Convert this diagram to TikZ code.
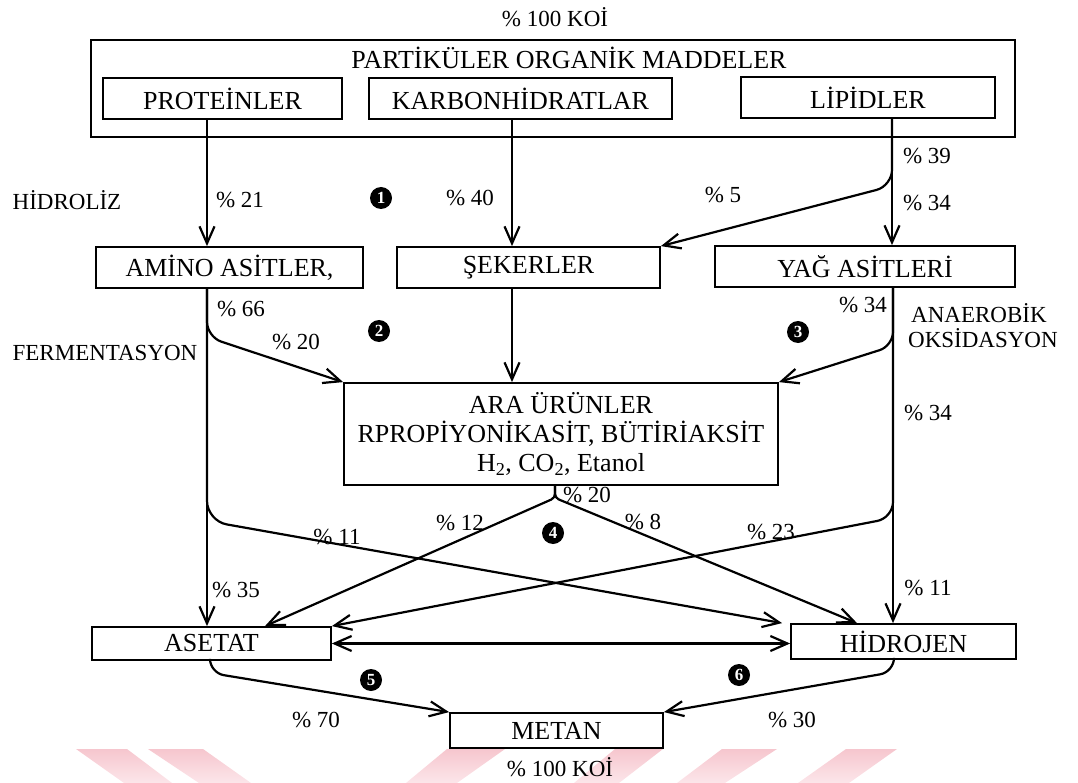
\documentclass[tikz,border=0pt]{standalone}
\usepackage{fontspec}
\setmainfont{Liberation Serif}
\usetikzlibrary{arrows.meta}
\definecolor{wmtop}{RGB}{246,198,206}
\definecolor{wmbot}{RGB}{252,230,234}
\newcommand{\bxfont}{\fontsize{26}{29}\selectfont}
\newcommand{\lbfont}{\fontsize{23}{26}\selectfont}
\newcommand{\nmfont}{\fontsize{17}{17}\selectfont\bfseries}
\begin{document}
\begin{tikzpicture}[x=1pt,y=-1pt,
  box/.style={draw, line width=1.8pt, inner sep=0pt, font=\bxfont, align=center},
  lbl/.style={inner sep=0pt, font=\lbfont},
  num/.style={circle, fill=black, text=white, inner sep=0pt, minimum size=22pt, font=\nmfont},
  barb/.tip={Straight Barb[length=17pt,width=15pt]},
  arr/.style={line width=2.2pt, -barb},
  darr/.style={line width=2.2pt, barb-barb},
  wm/.style={top color=wmtop, bottom color=wmbot, draw=none}]
\useasboundingbox (0,0) rectangle (1078,783);
% watermark stripes
\shade[wm] (76,749) -- (127,749) -- (172,783) -- (124,783) -- cycle;
\shade[wm] (148,749) -- (203,749) -- (251,783) -- (199,783) -- cycle;
\shade[wm] (447,749) -- (505,749) -- (457,783) -- (406,783) -- cycle;
\shade[wm] (615,749) -- (663,749) -- (619,783) -- (574,783) -- cycle;
\shade[wm] (722,749) -- (777,749) -- (725,783) -- (677,783) -- cycle;
\shade[wm] (846,749) -- (897,749) -- (849,783) -- (798,783) -- cycle;

% top
\node[lbl] (koitop) at (555,17) {\% 100 KOİ};
\node[box, minimum width=924pt, minimum height=97pt] (outer) at (553,88.5) {};
\node[lbl, font=\bxfont] (partik) at (569,58) {PARTİKÜLER ORGANİK MADDELER};
\node[box, minimum width=239pt, minimum height=41pt] (prot) at (222.5,98.5) {PROTEİNLER};
\node[box, minimum width=303pt, minimum height=41pt] (karb) at (520.5,98.5) {KARBONHİDRATLAR};
\node[box, minimum width=254pt, minimum height=41pt] (lip) at (868,97.5) {LİPİDLER};

% row 2
\node[box, minimum width=267pt, minimum height=41pt] (amino) at (229.5,267.5) {AMİNO ASİTLER,};
\node[box, minimum width=263pt, minimum height=41pt] (seker) at (528.5,267.5) {ŞEKERLER};
\node[box, minimum width=300pt, minimum height=41pt] (yag) at (865,266.5) {YAĞ ASİTLERİ};

% intermediate
\node[box, minimum width=434pt, minimum height=102pt] (ara) at (561,434)
  {ARA ÜRÜNLER\\RPROPİYONİKASİT, BÜTİRİAKSİT\\H\textsubscript{2}, CO\textsubscript{2}, Etanol};

% bottom
\node[box, minimum width=239pt, minimum height=33pt] (asetat) at (211.5,643.5) {ASETAT};
\node[box, minimum width=225pt, minimum height=35pt] (hidro) at (903.5,641.5) {HİDROJEN};
\node[box, minimum width=213pt, minimum height=35pt] (metan) at (556.5,730.5) {METAN};
\node[lbl] (koibot) at (560,767) {\% 100 KOİ};

% labels
\node[lbl] (hidroliz) at (67,200) {HİDROLİZ};
\node[lbl] (p21) at (240,200) {\% 21};
\node[num] (n1) at (381,198) {1};
\node[lbl] (p40) at (470,198) {\% 40};
\node[lbl] (p5) at (723,195) {\% 5};
\node[lbl] (p39) at (927,156) {\% 39};
\node[lbl] (p34a) at (927,203) {\% 34};
\node[lbl] (p66) at (241,309) {\% 66};
\node[num] (n2) at (379,331) {2};
\node[lbl] (p20a) at (296,342) {\% 20};
\node[lbl] (ferm) at (105,353) {FERMENTASYON};
\node[lbl] (p34b) at (863,305) {\% 34};
\node[num] (n3) at (798,332) {3};
\node[lbl, anchor=west] (anaer) at (911,313) {ANAEROBİK};
\node[lbl, anchor=west] (oksid) at (908,338) {OKSİDASYON};
\node[lbl] (p34c) at (928,413) {\% 34};
\node[lbl] (p20b) at (587,495) {\% 20};
\node[lbl] (p12) at (460,523) {\% 12};
\node[lbl] (p8) at (643,522) {\% 8};
\node[num] (n4) at (553,533) {4};
\node[lbl] (p11a) at (337,537) {\% 11};
\node[lbl] (p23) at (771,532) {\% 23};
\node[lbl] (p35) at (236,590) {\% 35};
\node[lbl] (p11b) at (928,588) {\% 11};
\node[num] (n5) at (371,680) {5};
\node[num] (n6) at (739,675) {6};
\node[lbl] (p70) at (316,720) {\% 70};
\node[lbl] (p30) at (792,720) {\% 30};

% connectors: hydrolysis
\draw[arr] ([xshift=-15.5pt]prot.south) -- ([xshift=-22.5pt]amino.north);
\draw[arr] ([xshift=-8.5pt]karb.south) -- ([xshift=-16.5pt]seker.north);
\draw[arr] ([xshift=24pt]lip.south) -- ([xshift=27pt]yag.north);
\draw[arr, rounded corners=16pt] ([xshift=24pt]lip.south) -- ++(0,67) -- (seker.north east);

% fermentation / oxidation
\draw[arr, rounded corners=15pt] ([xshift=-22.5pt]amino.south) -- ++(0,48) -- (ara.north west);
\draw[arr] ([xshift=-16.5pt]seker.south) -- ([xshift=-49pt]ara.north);
\draw[arr, rounded corners=14pt] ([xshift=28pt]yag.south) -- ++(0,58) -- (ara.north east);

% to acetate / hydrogen
\draw[arr] ([xshift=-22.5pt]amino.south) -- ([xshift=-4.5pt]asetat.north);
\draw[arr, rounded corners=20pt] ([xshift=-22.5pt]amino.south) -- ++(0,232) -- ([xshift=-8pt]hidro.north west);
\draw[arr] ([xshift=28pt]yag.south) -- ([xshift=-10.5pt]hidro.north);
\draw[arr, rounded corners=16pt] ([xshift=28pt]yag.south) -- ++(0,230) -- (asetat.north east);
\draw[arr, rounded corners=4pt] ([xshift=-6pt]ara.south) -- ++(0,12) -- ([xshift=53.5pt]asetat.north);
\draw[arr, rounded corners=4pt] ([xshift=-6pt]ara.south) -- ++(0,12) -- ([xshift=-46.5pt]hidro.north);
\draw[darr] (asetat.east) -- (asetat.east -| hidro.west);

% methane
\draw[arr, rounded corners=14pt] ([xshift=-1.5pt]asetat.south) -- ++(0,12) -- (metan.north west);
\draw[arr, rounded corners=14pt] ([xshift=-9.5pt]hidro.south) -- ++(0,12) -- (metan.north east);
\end{tikzpicture}
\end{document}
